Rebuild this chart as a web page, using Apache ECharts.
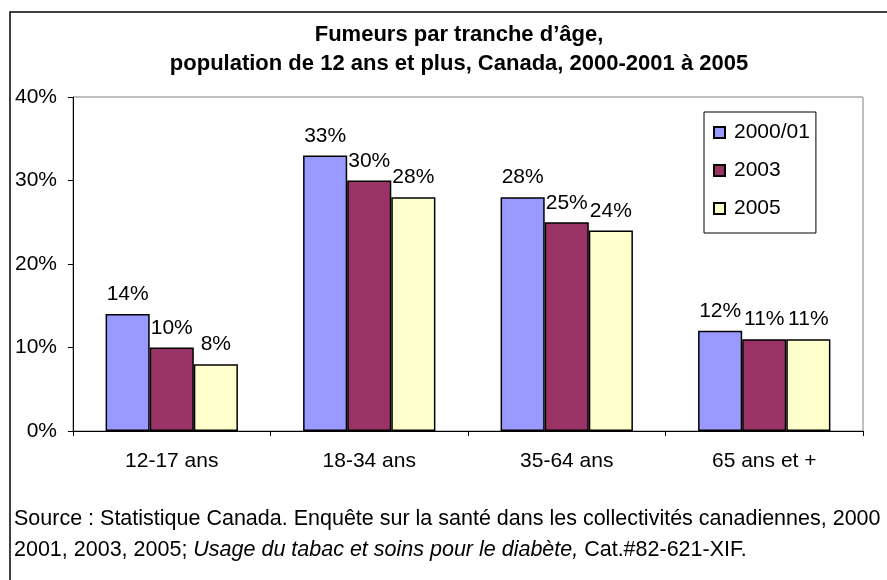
<!DOCTYPE html>
<html>
<head>
<meta charset="utf-8">
<script src="https://cdn.jsdelivr.net/npm/echarts@6/dist/echarts.min.js"></script>
<style>
html,body{margin:0;padding:0;background:#fff;}
#chart{width:887px;height:580px;}
</style>
</head>
<body>
<div id="chart"></div>
<script>
var categories = ['12-17 ans', '18-34 ans', '35-64 ans', '65 ans et +'];
var seriesNames = ['2000/01', '2003', '2005'];
var values2000 = [14, 33, 28, 12];
var values2003 = [10, 30, 25, 11];
var values2005 = [8, 28, 24, 11];
var yTicks = [0, 10, 20, 30, 40];
var colors = ['#9999FF', '#993366', '#FFFFCC'];

var FONT = 'Liberation Sans, Arial, sans-serif';
var chart = echarts.init(document.getElementById('chart'));

function mkSeries(name, data, color) {
  return {
    name: name,
    type: 'bar',
    data: data,
    barGap: '0%',
    barCategoryGap: '33%',
    itemStyle: { color: color, borderColor: '#000', borderWidth: 1.5 },
    label: {
      show: true,
      position: 'top',
      distance: 9,
      formatter: '{c}%',
      color: '#000',
      fontFamily: FONT,
      fontSize: 21
    }
  };
}

chart.setOption({
  animation: false,
  backgroundColor: '#fff',
  title: {
    text: 'Fumeurs par tranche d\u2019âge,\npopulation de 12 ans et plus, Canada, 2000-2001 à 2005',
    left: 454,
    textAlign: 'center',
    top: 15,
    textStyle: { fontFamily: FONT, fontWeight: 'bold', fontSize: 22, lineHeight: 29, color: '#000' }
  },
  legend: {
    orient: 'vertical',
    left: 704,
    top: 112,
    padding: [10, 6, 14, 9],
    itemWidth: 11,
    itemHeight: 11,
    itemGap: 17,
    icon: 'rect',
    borderColor: '#000',
    borderWidth: 1,
    backgroundColor: '#fff',
    textStyle: { fontFamily: FONT, fontSize: 21, color: '#000', padding: [0, 0, 0, 4] },
    data: seriesNames
  },
  grid: {
    left: 73, top: 97, right: 24, bottom: 149,
    show: true, borderColor: '#808080', borderWidth: 1
  },
  xAxis: {
    type: 'category',
    data: categories,
    axisLine: { lineStyle: { color: '#000', width: 1 } },
    axisTick: { show: true, length: 5, lineStyle: { color: '#000' } },
    axisLabel: { margin: 20, fontFamily: FONT, fontSize: 21, color: '#000' }
  },
  yAxis: {
    type: 'value',
    min: yTicks[0],
    max: yTicks[yTicks.length - 1],
    interval: 10,
    axisLine: { show: true, lineStyle: { color: '#000', width: 1 } },
    axisTick: { show: true, length: 5, lineStyle: { color: '#000' } },
    splitLine: { show: false },
    axisLabel: { margin: 16, formatter: '{value}%', fontFamily: FONT, fontSize: 21, color: '#000' }
  },
  series: [
    mkSeries(seriesNames[0], values2000, colors[0]),
    mkSeries(seriesNames[1], values2003, colors[1]),
    mkSeries(seriesNames[2], values2005, colors[2])
  ],
  graphic: [
    {
      type: 'rect',
      shape: { x: 10, y: 12, width: 900, height: 600 },
      style: { fill: null, stroke: '#000', lineWidth: 1.5 },
      silent: true,
      z: -1
    },
    {
      type: 'text',
      left: 14,
      top: 504,
      style: {
        text: 'Source : Statistique Canada. Enquête sur la santé dans les collectivités canadiennes, 2000\n2001, 2003, 2005; {i|Usage du tabac et soins pour le diabète,} Cat.#82-621-XIF.',
        fontFamily: FONT,
        fontSize: 21.5,
        lineHeight: 31,
        fill: '#000',
        rich: { i: { fontStyle: 'italic', fontFamily: FONT, fontSize: 21.5, lineHeight: 31 } }
      }
    }
  ]
});
</script>
</body>
</html>
